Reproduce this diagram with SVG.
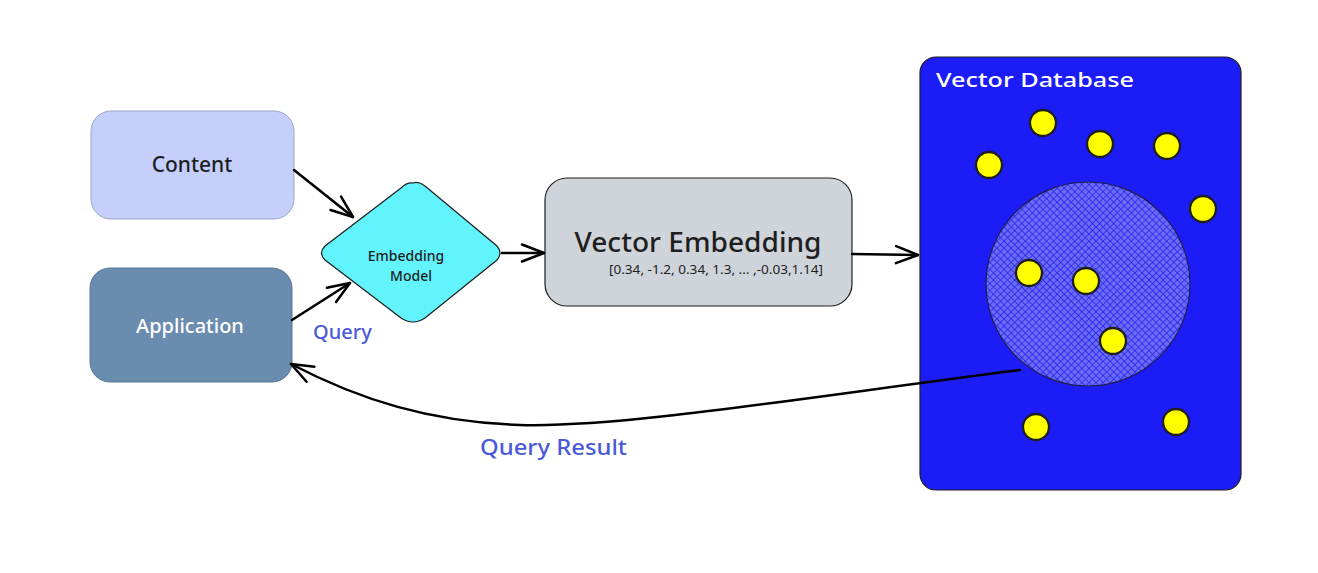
<svg xmlns="http://www.w3.org/2000/svg" width="1318" height="573" viewBox="0 0 1318 573">
<style>
text{font-family:"Noto Sans","Liberation Sans",sans-serif}
.lbl{fill:#1e1e1e;text-anchor:middle}
.blue{fill:#4a5ad8}
.con{fill:none;stroke:#000;stroke-width:2.5;stroke-linecap:round}
.dot{fill:#ffff00;stroke:#1e1e1e;stroke-width:2.3}
</style>
<defs>
<marker id="arr" viewBox="-26 -12 28 24" refX="0" refY="0" markerWidth="28" markerHeight="24" markerUnits="userSpaceOnUse" orient="auto" overflow="visible">
<path d="M-22,-8.5 L0,0 L-22,8.5" fill="none" stroke="#000" stroke-width="2.5" stroke-linecap="round" stroke-linejoin="round"/>
</marker>
<pattern id="hatch" width="5" height="5" patternUnits="userSpaceOnUse" patternTransform="rotate(45)">
<rect width="5" height="5" fill="#6b6bf4"/>
<path d="M0,0 L0,5 M0,0 L5,0" stroke="#2020ee" stroke-width="1.4"/>
</pattern>
</defs>
<rect width="1318" height="573" fill="#fff"/>

<g id="content">
<rect x="91" y="111" width="203" height="108" rx="20" fill="#c4cffb" stroke="#9aa6c8" stroke-width="1"/>
<text class="lbl" x="192" y="172" font-size="21" font-weight="500">Content</text>
</g>

<g id="application">
<rect x="90" y="268" width="202" height="114" rx="20" fill="#6a8caf" stroke="#5a7898" stroke-width="1"/>
<text x="190" y="333" font-size="20" font-weight="500" fill="#fff" text-anchor="middle">Application</text>
</g>

<g id="embedding-model">
<path d="M413,183 Q419,181 425,186 L497,246 Q503,253 497,260 L425,318 Q413,326 401,318 L325,260 Q318,253 325,246 L401,188 Q407,182 413,183 Z" fill="#62f4fd" stroke="#1e1e1e" stroke-width="1.2"/>
<text class="lbl" x="406" y="261" font-size="14" font-weight="500">Embedding</text>
<text class="lbl" x="411" y="281" font-size="14" font-weight="500">Model</text>
</g>

<g id="vector-embedding">
<rect x="545" y="178" width="307" height="128" rx="22" fill="#ced4da" stroke="#1e1e1e" stroke-width="1.2"/>
<text class="lbl" x="698" y="252" font-size="27" font-weight="500" textLength="247" lengthAdjust="spacingAndGlyphs">Vector Embedding</text>
<text class="lbl" x="716" y="274" font-size="12" textLength="214" lengthAdjust="spacingAndGlyphs">[0.34, -1.2, 0.34, 1.3, ... ,-0.03,1.14]</text>
</g>

<g id="vector-database">
<rect x="920" y="57" width="321" height="433" rx="16" fill="#1c1cf7" stroke="#1e1e1e" stroke-width="1.2"/>
<text x="936" y="87" font-size="20" font-weight="500" fill="#fff" textLength="198" lengthAdjust="spacingAndGlyphs">Vector Database</text>
<circle cx="1088" cy="284" r="102" fill="url(#hatch)" stroke="#1e1e50" stroke-width="1.2"/>
<circle class="dot" cx="1043" cy="123" r="13"/>
<circle class="dot" cx="989" cy="165" r="13"/>
<circle class="dot" cx="1100" cy="144" r="13"/>
<circle class="dot" cx="1167" cy="146" r="13"/>
<circle class="dot" cx="1203" cy="209" r="13"/>
<circle class="dot" cx="1029" cy="273" r="13"/>
<circle class="dot" cx="1086" cy="281" r="13"/>
<circle class="dot" cx="1113" cy="341" r="13"/>
<circle class="dot" cx="1036" cy="427" r="13"/>
<circle class="dot" cx="1176" cy="422" r="13"/>
</g>

<g id="connectors">
<path class="con" d="M294,170 L353,217" marker-end="url(#arr)"/>
<path class="con" d="M292,320 L350,283" marker-end="url(#arr)"/>
<path class="con" d="M502,253 L544,253" marker-end="url(#arr)"/>
<path class="con" d="M852,254 L918,255" marker-end="url(#arr)"/>
<path class="con" d="M1020,370 C800,398 620,428 520,425 C430,422 360,400 291,364" marker-end="url(#arr)"/>
<text class="blue" x="313" y="339" font-size="20" font-weight="500">Query</text>
<text class="blue" x="480" y="455" font-size="21" font-weight="500" textLength="147" lengthAdjust="spacingAndGlyphs">Query Result</text>
</g>
</svg>
